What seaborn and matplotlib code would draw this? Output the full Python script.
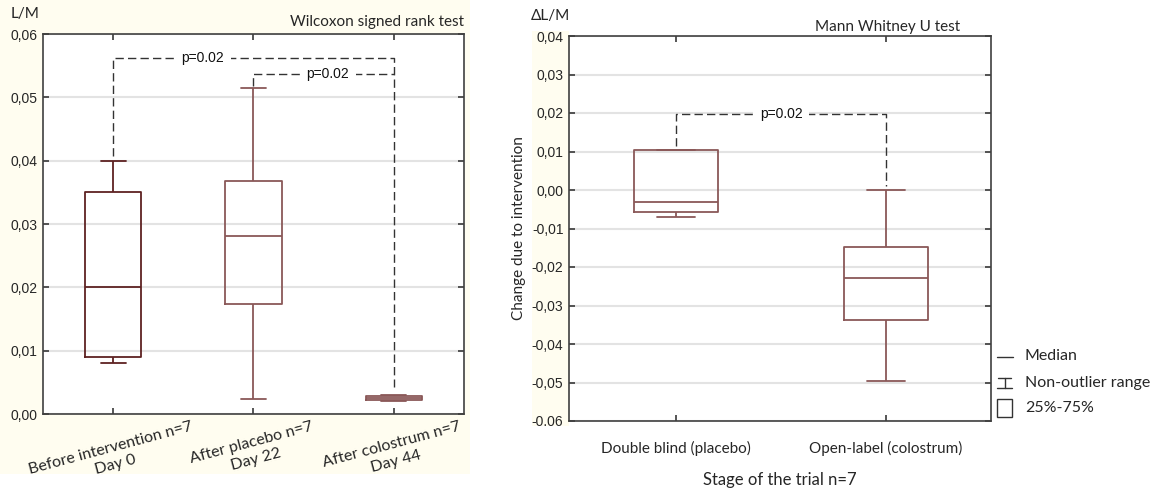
import numpy as np
import pandas as pd
import matplotlib
matplotlib.use("Agg")
import matplotlib.pyplot as plt
from matplotlib.lines import Line2D
from matplotlib.patches import Rectangle
import seaborn as sns

# ---------------- data ----------------
# five-number summaries: [whisker low, Q1, median, Q3, whisker high]
left_groups = ["Before intervention n=7\nDay 0", "After placebo n=7\nDay 22", "After colostrum n=7\nDay 44"]
left_before = [0.0080, 0.0090, 0.0200, 0.0350, 0.0400]
left_placebo = [0.0023, 0.0173, 0.0281, 0.0368, 0.0515]
left_colostrum = [0.0020, 0.0022, 0.0025, 0.0029, 0.0030]

right_groups = ["Double blind (placebo)", "Open-label (colostrum)"]
right_placebo = [-0.0070, -0.0058, -0.0031, 0.0105, 0.0105]
right_colostrum = [-0.0495, -0.0337, -0.0229, -0.0148, 0.0000]

left_yticks = [0.00, 0.01, 0.02, 0.03, 0.04, 0.05, 0.06]
left_yticklabels = ["0,00", "0,01", "0,02", "0,03", "0,04", "0,05", "0,06"]
right_yticks = [-0.06, -0.05, -0.04, -0.03, -0.02, -0.01, 0.00, 0.01, 0.02, 0.03, 0.04]
right_yticklabels = ["-0.06", "-0,05", "-0,04", "-0,03", "-0,02", "-0,01", "0,00", "0,01", "0,02", "0,03", "0,04"]

# significance brackets: (x_start, y_start, x_end, y_end, y_bar, text_x, label)
left_brackets = [(0, 0.0408, 2, 0.0042, 0.0562, 0.64, "p=0.02"),
                 (1, 0.0518, 2, 0.0537, 0.0537, 1.53, "p=0.02")]
right_brackets = [(0, 0.0115, 1, 0.0010, 0.0198, 0.50, "p=0.02")]

legend_labels = ["Median", "Non-outlier range", "25%-75%"]

# ---------------- styling ----------------
sns.set_theme(style="white")
TICKFONT = ["Liberation Sans", "DejaVu Sans"]
LABFONT = ["Lato", "DejaVu Sans"]
plt.rcParams["font.family"] = LABFONT

dark_box = "#5e2222"
light_box = "#8a5858"
spine_col = "#404040"
grid_col = "#e3e3e3"
W, H = 1155, 488

fig = plt.figure(figsize=(11.55, 4.88), dpi=100, facecolor="white")
# cream background areas behind the tick labels
fig.patches.append(Rectangle((0, 14 / H), 470 / W, 1 - 14 / H, transform=fig.transFigure,
                             facecolor="#fffdf0", edgecolor="none", zorder=-10))
fig.patches.append(Rectangle((532 / W, 62 / H), 37 / W, 395 / H, transform=fig.transFigure,
                             facecolor="#fffdf0", edgecolor="none", zorder=-10))

ax1 = fig.add_axes([43 / W, 74 / H, 421 / W, 380 / H])
ax2 = fig.add_axes([569 / W, 67 / H, 422 / W, 385 / H])

df_left = pd.DataFrame({
    "group": np.repeat(left_groups, 5),
    "value": left_before + left_placebo + left_colostrum,
})
df_right = pd.DataFrame({
    "group": np.repeat(right_groups, 5),
    "value": right_placebo + right_colostrum,
})

sns.boxplot(data=df_left, x="group", y="value", hue="group", order=left_groups,
            palette={left_groups[0]: dark_box, left_groups[1]: light_box, left_groups[2]: light_box},
            fill=False, whis=(0, 100), width=0.4, linewidth=1.3, legend=False, ax=ax1)
sns.boxplot(data=df_right, x="group", y="value", hue="group", order=right_groups,
            palette={right_groups[0]: light_box, right_groups[1]: light_box},
            fill=False, whis=(0, 100), width=0.4, linewidth=1.3, legend=False, ax=ax2)

# caps a bit narrower than the boxes
for ax in (ax1, ax2):
    for line in ax.lines:
        xd = np.asarray(line.get_xdata(), dtype=float)
        yd = np.asarray(line.get_ydata(), dtype=float)
        if len(xd) == 2 and yd[0] == yd[1] and 0.15 < abs(xd[1] - xd[0]) < 0.25:
            c = xd.mean()
            line.set_xdata([c - 0.09, c + 0.09])


def style_axis(ax, yticks, yticklabels, ylim, xlim):
    ax.set_ylim(*ylim)
    ax.set_xlim(*xlim)
    ax.set_yticks(yticks)
    ax.set_yticklabels(yticklabels, family=TICKFONT, fontsize=10)
    for y in yticks:
        ax.axhline(y, color=grid_col, lw=1.5, zorder=0)
    for sp in ax.spines.values():
        sp.set_visible(True)
        sp.set_color(spine_col)
        sp.set_linewidth(1.2)
    ax.tick_params(axis="both", direction="in", length=4, color=spine_col,
                   top=True, right=True, bottom=True, left=True, pad=4)
    ax.set_xlabel("")
    ax.set_ylabel("")
    ax.set_facecolor("white")


style_axis(ax1, left_yticks, left_yticklabels, (0, 0.06), (-0.5, 2.5))
style_axis(ax2, right_yticks, right_yticklabels, (-0.06, 0.04), (-0.51, 1.5))

ax1.set_xticks(range(len(left_groups)))
ax1.set_xticklabels(left_groups, rotation=15, ha="center", fontsize=11.5, family=LABFONT,
                    linespacing=1.3)
ax1.tick_params(axis="x", pad=4)
ax2.set_xticks(range(len(right_groups)))
ax2.set_xticklabels(right_groups, fontsize=11, family=LABFONT)
ax2.tick_params(axis="x", pad=14)


def draw_brackets(ax, brackets):
    for x0, y0, x1, y1, yb, tx, lab in brackets:
        ax.plot([x0, x0, x1, x1], [y0, yb, yb, y1], color="#333333", lw=1.0,
                dashes=(6, 3), zorder=3)
        ax.text(tx, yb, lab, ha="center", va="center", fontsize=10, family=TICKFONT,
                color="#111111", zorder=4,
                bbox=dict(facecolor="white", edgecolor="none", pad=5))


draw_brackets(ax1, left_brackets)
draw_brackets(ax2, right_brackets)

# titles / axis labels
ax1.text(1.0, 1.012, "Wilcoxon signed rank test", transform=ax1.transAxes, ha="right",
         va="bottom", fontsize=11, family=LABFONT)
ax1.text(-0.078, 1.035, "L/M", transform=ax1.transAxes, ha="left", va="bottom",
         fontsize=11, family=LABFONT)
ax2.text(0.9265, 1.005, "Mann Whitney U test", transform=ax2.transAxes, ha="right",
         va="bottom", fontsize=11, family=LABFONT)
ax2.text(-0.09, 1.035, "ΔL/M", transform=ax2.transAxes, ha="left", va="bottom",
         fontsize=11, family=LABFONT)
ax2.set_ylabel("Change due to intervention", fontsize=11, family=LABFONT, labelpad=4)
ax2.set_xlabel("Stage of the trial n=7", fontsize=12, family=LABFONT, labelpad=12)

# legend (drawn by hand in figure pixel coordinates)
lc = "#333333"
def fx(px):
    return px / W
def fy(py):
    return 1 - py / H

# median symbol
fig.add_artist(Line2D([fx(997), fx(1013)], [fy(357), fy(357)], color=lc, lw=1.0))
# non-outlier range symbol (I-beam)
fig.add_artist(Line2D([fx(998), fx(1011)], [fy(378), fy(378)], color=lc, lw=1.0))
fig.add_artist(Line2D([fx(1004.5), fx(1004.5)], [fy(378), fy(388)], color=lc, lw=1.0))
fig.add_artist(Line2D([fx(997), fx(1012)], [fy(388), fy(388)], color=lc, lw=1.0))
# box symbol
fig.add_artist(Rectangle((fx(997), fy(417)), 15 / W, 18 / H, transform=fig.transFigure,
                         facecolor="white", edgecolor=lc, lw=1.0))
for lab, yy in zip(legend_labels, [356, 383, 408]):
    fig.text(fx(1025), fy(yy), lab, ha="left", va="center", fontsize=11.5, family=LABFONT)

fig.savefig("out.png", dpi=100, facecolor=fig.get_facecolor())
